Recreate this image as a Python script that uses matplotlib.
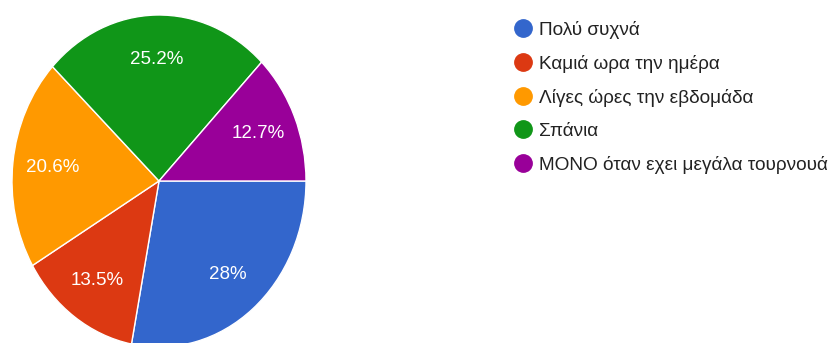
import matplotlib.pyplot as plt
from matplotlib.lines import Line2D

# Survey answers and their shares (%)
categories = [
    "Πολύ συχνά",
    "Καμιά ωρα την ημέρα",
    "Λίγες ώρες την εβδομάδα",
    "Σπάνια",
    "ΜΟΝΟ όταν εχει μεγάλα τουρνουά",
]
shares = [28.0, 13.5, 20.6, 25.2, 12.7]
colors = ["#3366CC", "#DC3912", "#FF9900", "#109618", "#990099"]

plt.rcParams["font.family"] = ["Liberation Sans", "DejaVu Sans"]

W, H = 835, 343
fig = plt.figure(figsize=(W / 100, H / 100), dpi=100)
fig.patch.set_facecolor("white")

# pie axes placed in pixel terms; aspect left free so the pie is a bit taller than wide
left, right, top, bottom = 12, 306, 15, 347
ax = fig.add_axes([left / W, (H - bottom) / H, (right - left) / W, (bottom - top) / H])


def fmt(p):
    s = f"{p:.1f}".rstrip("0").rstrip(".")
    return s + "%"


wedges, texts, autotexts = ax.pie(
    shares,
    colors=colors,
    startangle=0,
    counterclock=False,
    autopct=fmt,
    pctdistance=0.73,
    wedgeprops=dict(edgecolor="white", linewidth=1.0),
    textprops=dict(color="white", fontsize=13.5),
)
ax.set_aspect("auto")
ax.set_xlim(-1, 1)
ax.set_ylim(-1, 1)
ax.axis("off")

# legend with round markers
handles = [
    Line2D([], [], marker="o", linestyle="none", markersize=12.5,
           markerfacecolor=c, markeredgecolor=c)
    for c in colors
]
fig.legend(
    handles,
    categories,
    loc="upper left",
    bbox_to_anchor=(507 / W, 1 - 13 / H),
    frameon=False,
    fontsize=13.7,
    handlelength=0.92,
    handletextpad=0.38,
    labelspacing=0.84,
    borderaxespad=0,
    labelcolor="#222222",
)

fig.savefig("out.png", dpi=100, facecolor="white")
